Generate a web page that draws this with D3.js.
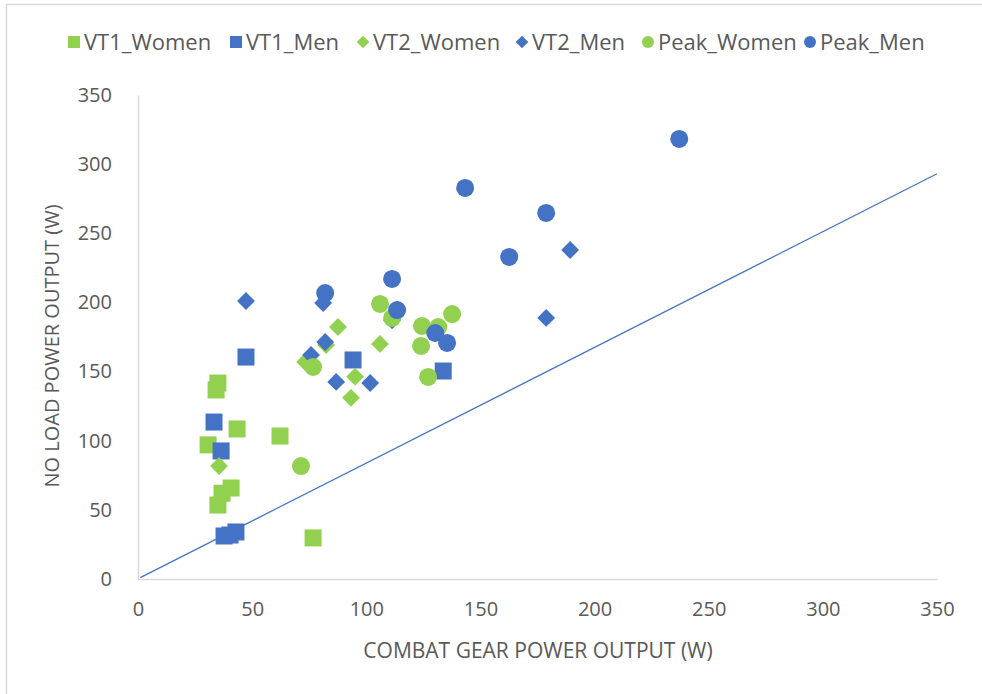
<!DOCTYPE html>
<html>
<head>
<meta charset="utf-8">
<script src="https://cdn.jsdelivr.net/npm/d3@7"></script>
<style>
  body { margin: 0; background: #fff; }
  text { font-family: "Open Sans", "Liberation Sans", sans-serif; fill: #595959; }
</style>
</head>
<body>
<div id="chart"></div>
<script>
// data (W)
var vt1WomenX = [30.7, 34.2, 35.0, 43.4, 62.2, 36.8, 35.0, 40.8, 76.7];
var vt1WomenY = [97, 136.7, 141.7, 108.5, 103.4, 62, 53.5, 65.8, 29.7];
var vt1MenX = [47.3, 33.3, 36.4, 37.7, 40.3, 42.9, 94.2, 133.7];
var vt1MenY = [160.5, 113.5, 92.6, 31.1, 31.8, 34, 158.4, 150.4];
var vt2WomenX = [35.5, 73.2, 82.4, 87.6, 106, 95.1, 93.3, 111.3];
var vt2WomenY = [81.7, 156.9, 169.2, 182.2, 170, 146.3, 131, 187];
var vt2MenX = [47.3, 81.1, 82.0, 75.8, 86.8, 101.7, 111.3, 178.8, 189.3];
var vt2MenY = [201, 199.6, 171.4, 162, 142.5, 141.7, 187.3, 188.8, 237.9];
var peakWomenX = [76.7, 106, 111.3, 124.4, 131.5, 137.6, 124, 127.1, 71.4];
var peakWomenY = [153.3, 198.9, 188.8, 183, 182.2, 191.6, 168.5, 146.1, 81.7];
var peakMenX = [82, 111.3, 113.5, 143.3, 162.6, 178.8, 237.1, 130.2, 135.4];
var peakMenY = [206.8, 217, 194.5, 282.8, 232.9, 264.7, 318.2, 177.9, 170.7];
var refLineX = [1, 350];
var refLineY = [1, 293];
var ticks = [0, 50, 100, 150, 200, 250, 300, 350];

var GREEN = '#92D050', BLUE = '#4472C4';
var series = [
    {name: 'VT1_Women', xs: vt1WomenX, ys: vt1WomenY, color: GREEN, shape: 'square'},
    {name: 'VT1_Men', xs: vt1MenX, ys: vt1MenY, color: BLUE, shape: 'square'},
    {name: 'VT2_Women', xs: vt2WomenX, ys: vt2WomenY, color: GREEN, shape: 'diamond'},
    {name: 'VT2_Men', xs: vt2MenX, ys: vt2MenY, color: BLUE, shape: 'diamond'},
    {name: 'Peak_Women', xs: peakWomenX, ys: peakWomenY, color: GREEN, shape: 'circle'},
    {name: 'Peak_Men', xs: peakMenX, ys: peakMenY, color: BLUE, shape: 'circle'}
];

var w = 982, h = 694;
var svg = d3.select('#chart').append('svg')
    .attr('width', w).attr('height', h);

// chart border
svg.append('rect')
    .attr('x', 6.5).attr('y', 4.5)
    .attr('width', w).attr('height', h)
    .attr('fill', 'none').attr('stroke', '#d9d9d9').attr('stroke-width', 1.5);

var x = d3.scaleLinear().domain([0, 350]).range([138, 937]);
var y = d3.scaleLinear().domain([0, 350]).range([579, 95]);

// axes
var xAxis = svg.append('g')
    .attr('transform', 'translate(0,' + y(0) + ')')
    .call(d3.axisBottom(x).tickValues(ticks).tickSize(0).tickPadding(23));
var yAxis = svg.append('g')
    .attr('transform', 'translate(' + x(0) + ',0)')
    .call(d3.axisLeft(y).tickValues(ticks).tickSize(0).tickPadding(26));
[xAxis, yAxis].forEach(function (a) {
    a.select('.domain').attr('stroke', '#d9d9d9').attr('stroke-width', 1.5);
    a.selectAll('text').style('font-size', '20px').attr('fill', '#595959');
});

svg.append('text')
    .attr('x', 538).attr('y', 658)
    .attr('text-anchor', 'middle')
    .style('font-size', '21px')
    .text('COMBAT GEAR POWER OUTPUT (W)');
svg.append('text')
    .attr('transform', 'translate(59,346) rotate(-90)')
    .attr('text-anchor', 'middle')
    .style('font-size', '20px')
    .text('NO LOAD  POWER OUTPUT (W)');

// reference line
svg.append('line')
    .attr('x1', x(refLineX[0])).attr('y1', y(refLineY[0]))
    .attr('x2', x(refLineX[1])).attr('y2', y(refLineY[1]))
    .attr('stroke', BLUE).attr('stroke-width', 1.2);

function marker(sel, shape, color, size) {
    var r = size / 2;
    if (shape === 'square') {
        sel.append('rect').attr('x', -r).attr('y', -r)
            .attr('width', size).attr('height', size);
    } else if (shape === 'diamond') {
        var d = r * 1.05;
        sel.append('path').attr('d', 'M0,' + (-d) + 'L' + d + ',0L0,' + d + 'L' + (-d) + ',0Z');
    } else {
        sel.append('circle').attr('r', r);
    }
    sel.attr('fill', color);
}

series.forEach(function (s) {
    var pts = s.xs.map(function (v, i) { return {x: v, y: s.ys[i]}; });
    svg.append('g').selectAll('g')
        .data(pts)
        .enter()
        .append('g')
        .attr('transform', function (d) { return 'translate(' + x(d.x) + ',' + y(d.y) + ')'; })
        .each(function () {
            marker(d3.select(this), s.shape, s.color, s.shape === 'circle' ? 18 : 17);
        });
});

// legend
var legendPos = [74, 236, 363, 522, 648, 810];
var legend = svg.append('g');
series.forEach(function (s, i) {
    var g = legend.append('g').attr('transform', 'translate(' + legendPos[i] + ',42)');
    marker(g.append('g'), s.shape, s.color, 12);
    g.append('text')
        .attr('x', 10).attr('y', 8)
        .style('font-size', '22px')
        .text(s.name);
});
</script>
</body>
</html>
